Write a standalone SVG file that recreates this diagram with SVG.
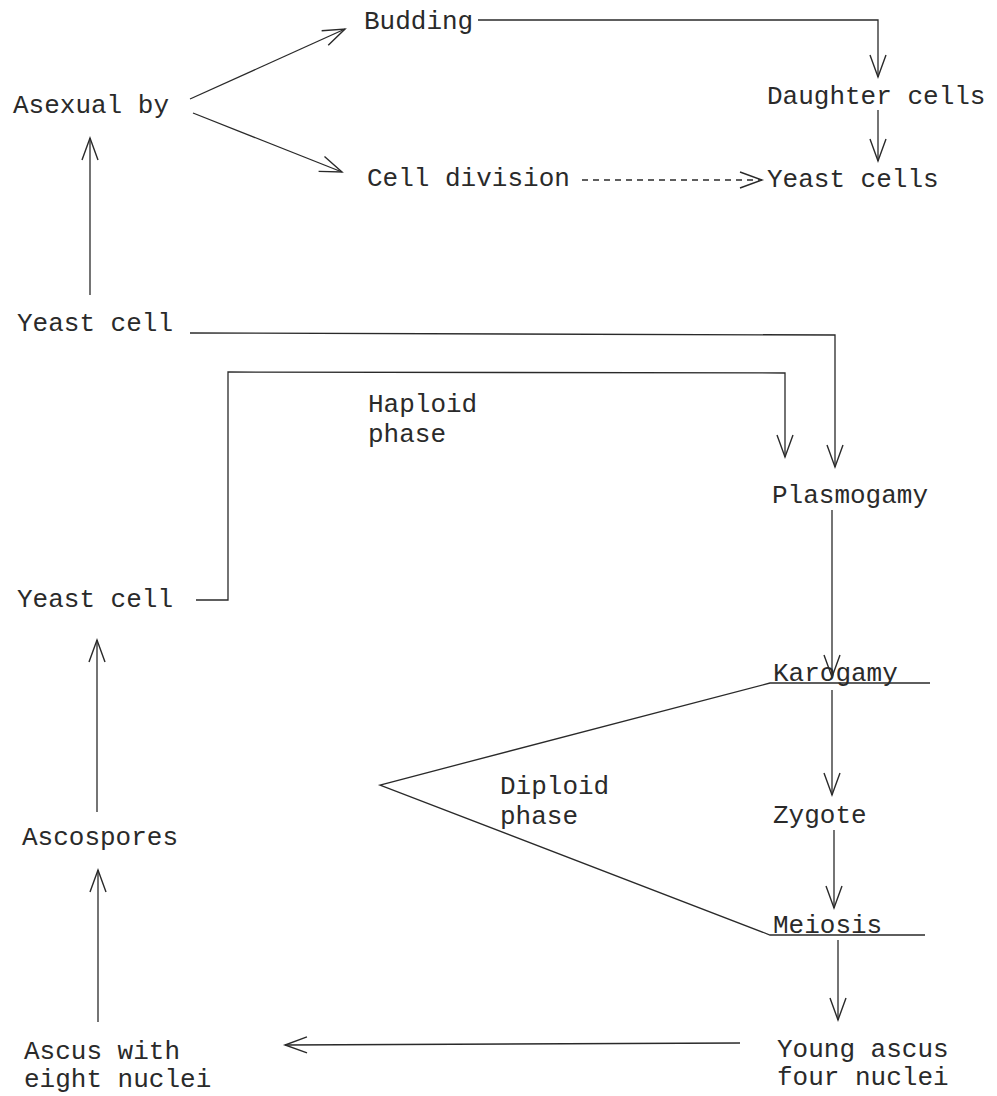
<svg xmlns="http://www.w3.org/2000/svg" width="997" height="1096" viewBox="0 0 997 1096">
  <style>
    .lbl { font-family: "Liberation Mono", "DejaVu Sans Mono", monospace; font-size: 26px; fill: #2a2a2a; }
    .ln { fill: none; stroke: #2a2a2a; stroke-width: 1.3; }
    .dash { stroke-dasharray: 6 5; }
  </style>
  <defs>
    <marker id="arr" markerUnits="userSpaceOnUse" markerWidth="30" markerHeight="24" viewBox="-25 -12 30 24" refX="0" refY="0" orient="auto">
      <path d="M-22,-8 L0,0 L-22,8" fill="none" stroke="#2a2a2a" stroke-width="1.4"/>
    </marker>
  </defs>

  <g id="connectors">
    <!-- yeast cell up to asexual reproduction -->
    <path class="ln" d="M90,295 L90,138" marker-end="url(#arr)"/>
    <path class="ln" d="M190,99 L345,29" marker-end="url(#arr)"/>
    <path class="ln" d="M193,113 L342,172" marker-end="url(#arr)"/>
    <!-- budding to daughter cells -->
    <path class="ln" d="M478,20 L878,20 L878,77" marker-end="url(#arr)"/>
    <path class="ln" d="M878,110 L878,161" marker-end="url(#arr)"/>
    <!-- cell division to yeast cells -->
    <path class="ln dash" d="M582,180 L762,180" marker-end="url(#arr)"/>
    <!-- both yeast cells into plasmogamy -->
    <path class="ln" d="M190,333 L835,335 L835,467" marker-end="url(#arr)"/>
    <path class="ln" d="M196,600 L228,600 L228,372 L785,373 L785,457" marker-end="url(#arr)"/>
    <!-- main sexual sequence -->
    <path class="ln" d="M832,510 L832,677" marker-end="url(#arr)"/>
    <path class="ln" d="M832,690 L832,795" marker-end="url(#arr)"/>
    <path class="ln" d="M834,830 L834,908" marker-end="url(#arr)"/>
    <path class="ln" d="M838,940 L838,1020" marker-end="url(#arr)"/>
    <path class="ln" d="M740,1043 L285,1045" marker-end="url(#arr)"/>
    <path class="ln" d="M98,1022 L98,870" marker-end="url(#arr)"/>
    <path class="ln" d="M97,812 L97,640" marker-end="url(#arr)"/>
    <!-- diploid phase bracket -->
    <path class="ln" d="M930,683 L770,683 L380,785 L770,935 L925,935"/>
  </g>

  <g id="asexual"><text class="lbl" x="13" y="113">Asexual by</text></g>
  <g id="budding"><text class="lbl" x="364" y="29">Budding</text></g>
  <g id="daughter-cells"><text class="lbl" x="767" y="104">Daughter cells</text></g>
  <g id="cell-division"><text class="lbl" x="367" y="186">Cell division</text></g>
  <g id="yeast-cells"><text class="lbl" x="767" y="187">Yeast cells</text></g>
  <g id="yeast-cell-1"><text class="lbl" x="17" y="331">Yeast cell</text></g>
  <g id="haploid"><text class="lbl" x="368" y="412">Haploid</text><text class="lbl" x="368" y="442">phase</text></g>
  <g id="plasmogamy"><text class="lbl" x="772" y="503">Plasmogamy</text></g>
  <g id="yeast-cell-2"><text class="lbl" x="17" y="607">Yeast cell</text></g>
  <g id="karogamy"><text class="lbl" x="773" y="681">Karogamy</text></g>
  <g id="diploid"><text class="lbl" x="500" y="794">Diploid</text><text class="lbl" x="500" y="824">phase</text></g>
  <g id="zygote"><text class="lbl" x="773" y="823">Zygote</text></g>
  <g id="ascospores"><text class="lbl" x="22" y="845">Ascospores</text></g>
  <g id="meiosis"><text class="lbl" x="773" y="933">Meiosis</text></g>
  <g id="young-ascus"><text class="lbl" x="777" y="1057">Young ascus</text><text class="lbl" x="777" y="1085">four nuclei</text></g>
  <g id="ascus-eight"><text class="lbl" x="24" y="1059">Ascus with</text><text class="lbl" x="24" y="1087">eight nuclei</text></g>
</svg>
